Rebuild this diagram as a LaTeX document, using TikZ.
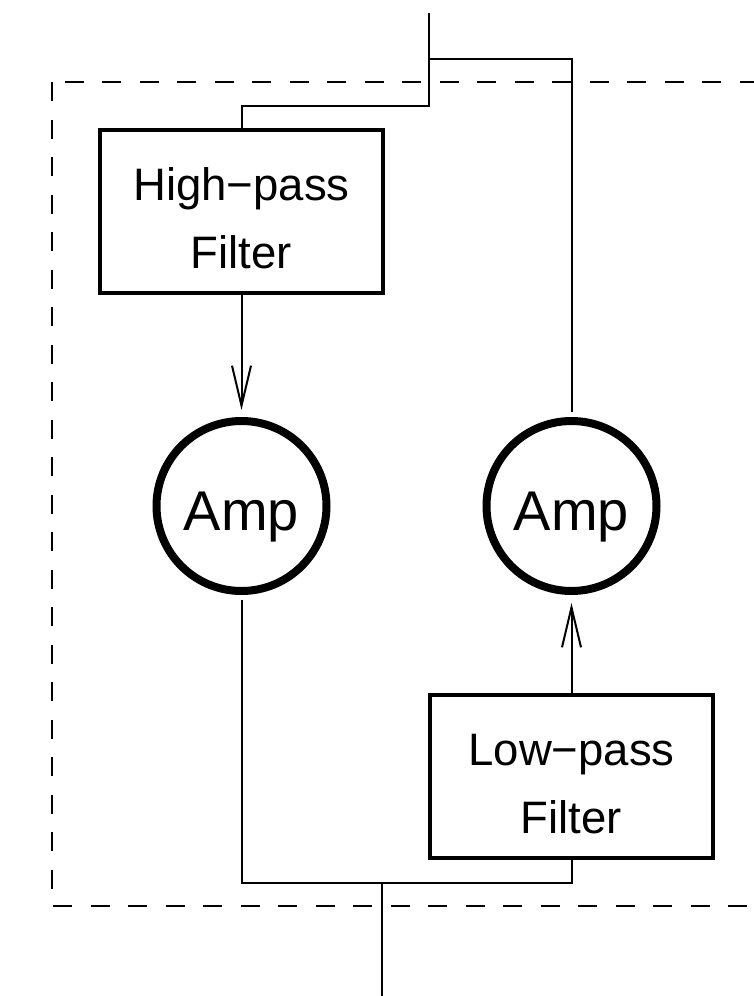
\documentclass[tikz,border=0pt]{standalone}
\usepackage{fontspec}
\setmainfont{Liberation Sans}
\usetikzlibrary{arrows.meta}
\begin{document}
\begin{tikzpicture}[x=1pt,y=-1pt,
  wire/.style={line width=2pt},
  filterbox/.style={draw,line width=4pt,minimum width=283pt,minimum height=163pt,inner sep=0pt,align=center,
    text height=113pt,text depth=0pt,font=\fontsize{45.5}{68}\selectfont},
  ampnode/.style={draw,circle,line width=8pt,minimum size=170pt,inner sep=0pt,
    text height=48pt,text depth=0pt,font=\fontsize{56}{68}\selectfont},
  arr/.style={wire,-{Straight Barb[length=40pt,width=19pt,line width=2pt]}},
  frame/.style={line width=2pt,dash pattern=on 19pt off 18.5pt}]
\useasboundingbox (0,0) rectangle (754,996);
\begin{scope}
\clip (0,0) rectangle (754,996);
\draw[frame] (52,82) rectangle (800,906);
\end{scope}
\node[filterbox] (hp) at (241.5,211.5) {High−pass\\Filter};
\node[filterbox] (lp) at (571.5,776.5) {Low−pass\\Filter};
\node[ampnode] (ampl) at (241.5,506) {Amp};
\node[ampnode] (ampr) at (571.5,506) {Amp};
\coordinate (in) at (429,13);
\coordinate (inbend) at (429,106);
\coordinate (split) at (429,59);
\coordinate (join) at (382,883);
\coordinate (out) at (382,996);
\draw[wire] (in) -- (inbend) -| (hp.north);
\draw[wire,shorten >=5pt] (split) -| (ampr.north);
\draw[arr,shorten >=7pt] (hp.south) -- (ampl.north);
\draw[arr,shorten >=8pt] (lp.north) -- (ampr.south);
\draw[wire,shorten <=5pt] (ampl.south) |- (join) -| (lp.south);
\draw[wire] (join) -- (out);
\end{tikzpicture}
\end{document}
